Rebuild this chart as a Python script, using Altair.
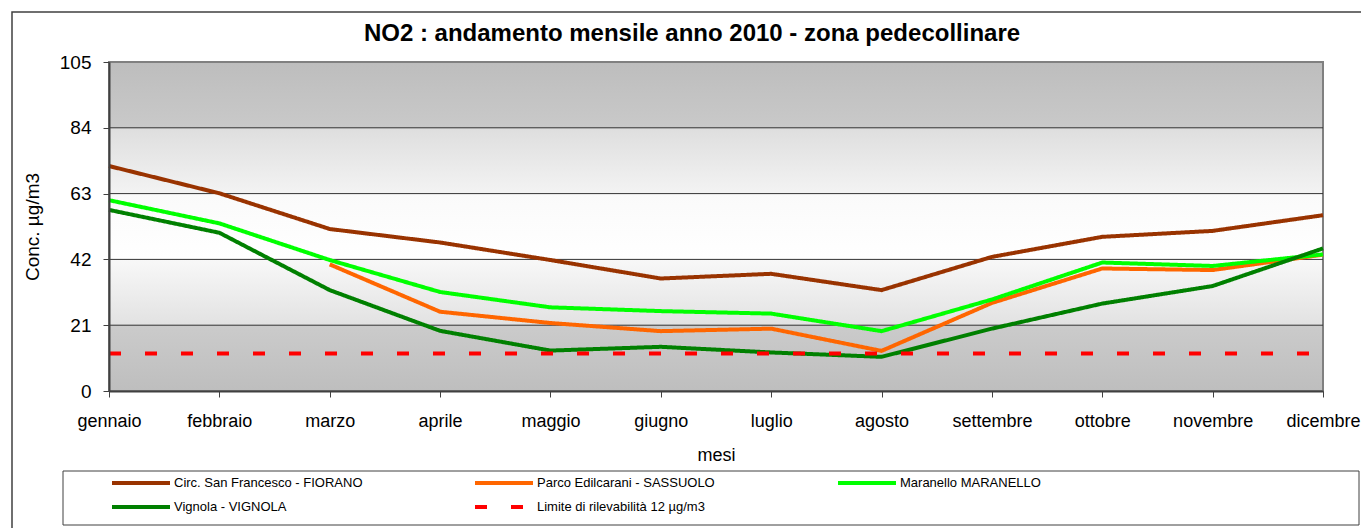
import altair as alt
import pandas as pd

mesi = ["gennaio", "febbraio", "marzo", "aprile", "maggio", "giugno",
        "luglio", "agosto", "settembre", "ottobre", "novembre", "dicembre"]
fiorano = [71.8, 63.1, 51.7, 47.4, 41.8, 35.9, 37.4, 32.2, 42.8, 49.2, 51.1, 56.1]
sassuolo = [None, None, 40.4, 25.3, 21.7, 19.1, 19.9, 12.8, 28.1, 39.1, 38.6, 43.5]
maranello = [60.9, 53.5, 41.8, 31.6, 26.7, 25.5, 24.7, 19.1, 29.2, 41.0, 39.9, 43.6]
vignola = [57.8, 50.5, 32.2, 19.2, 12.9, 14.1, 12.3, 10.9, 19.9, 27.9, 33.5, 45.5]
limite = [12, 12, 12, 12, 12, 12, 12, 12, 12, 12, 12, 12]

serie_nomi = ["Circ. San Francesco - FIORANO", "Parco Edilcarani - SASSUOLO",
              "Maranello MARANELLO", "Vignola - VIGNOLA",
              "Limite di rilevabilità 12 µg/m3"]
serie_valori = [fiorano, sassuolo, maranello, vignola, limite]
colori = ["#993300", "#FF6600", "#00FF00", "#008000", "#FF0000"]
spessori = [4, 4, 4, 4, 6]
tratti = [[1, 0], [1, 0], [1, 0], [1, 0], [12, 24]]
y_ticks = [0, 21, 42, 63, 84, 105]

rows = []
for k, (nome, valori) in enumerate(zip(serie_nomi, serie_valori)):
    for m, v in zip(mesi, valori):
        if v is not None:
            rows.append({"mese": m, "valore": v, "serie": nome, "ordine": k})
df = pd.DataFrame(rows)

W, H = 1214, 329
FONT = "Liberation Sans"

one = pd.DataFrame({"a": [0]})

y_scale = alt.Scale(domain=[y_ticks[0], y_ticks[-1]], nice=False)
y_axis = alt.Axis(title="Conc. µg/m3", values=y_ticks, labelFont=FONT,
                  labelFontSize=19, labelColor="#000", titleFont=FONT,
                  titleFontSize=19, titleFontWeight="normal", titleColor="#000",
                  tickSize=6, tickColor="#404040", domainColor="#404040",
                  domainWidth=2, labelPadding=12, titlePadding=17,
                  grid=False, zindex=1)

# background gradient of the plot area
bg = alt.Chart(one).mark_rect(
    fill=alt.Gradient(
        gradient="linear", x1=0, x2=0, y1=0, y2=1,
        stops=[
            alt.GradientStop(offset=0.0, color="#bdbdbd"),
            alt.GradientStop(offset=0.2, color="#c9c9c9"),
            alt.GradientStop(offset=0.2, color="#dedede"),
            alt.GradientStop(offset=0.4, color="#f3f3f3"),
            alt.GradientStop(offset=0.4, color="#fafafa"),
            alt.GradientStop(offset=0.6, color="#ffffff"),
            alt.GradientStop(offset=0.6, color="#f8f8f8"),
            alt.GradientStop(offset=0.8, color="#e2e2e2"),
            alt.GradientStop(offset=0.8, color="#cbcbcb"),
            alt.GradientStop(offset=1.0, color="#bebebe"),
        ],
    ),
    stroke="#808080", strokeWidth=2,
).encode(x=alt.value(0), x2=alt.value(W), y=alt.value(0), y2=alt.value(H))

grid = alt.Chart(pd.DataFrame({"valore": y_ticks[1:-1]})).mark_rule(
    color="#333333", strokeWidth=1
).encode(
    y=alt.Y("valore:Q", axis=y_axis, scale=y_scale)
)

lines = alt.Chart(df).mark_line(strokeCap="butt", strokeJoin="miter").encode(
    x=alt.X("mese:N", sort=mesi,
            scale=alt.Scale(domain=mesi, type="point", padding=0),
            axis=alt.Axis(title="mesi", labelAngle=0, labelFont=FONT, labelFontSize=18,
                          labelColor="#000", titleFont=FONT, titleFontSize=18,
                          titleFontWeight="normal", titleColor="#000",
                          tickSize=6, tickColor="#404040", domainColor="#404040",
                          domainWidth=2, labelPadding=15, titlePadding=16,
                          grid=False, zindex=1)),
    y=alt.Y("valore:Q", scale=y_scale, axis=y_axis),
    color=alt.Color("serie:N", scale=alt.Scale(domain=serie_nomi, range=colori),
                    legend=alt.Legend(
                        title=None, orient="none", legendX=1, legendY=409,
                        direction="horizontal", columns=3, columnPadding=110,
                        rowPadding=0, clipHeight=24, gridAlign="all",
                        symbolType="stroke", symbolSize=3364,
                        labelFont=FONT, labelFontSize=13, labelLimit=0,
                        labelColor="#000", labelOffset=2, padding=0)),
    strokeDash=alt.StrokeDash("serie:N", scale=alt.Scale(domain=serie_nomi, range=tratti)),
    strokeWidth=alt.StrokeWidth("serie:N", scale=alt.Scale(domain=serie_nomi, range=spessori)),
    order=alt.Order("ordine:Q"),
    detail="serie:N",
)

legend_box = alt.Chart(one).mark_rect(fill=None, stroke="#404040", strokeWidth=1).encode(
    x=alt.value(-46), x2=alt.value(1250), y=alt.value(409), y2=alt.value(463)
)

border = alt.Chart(one).mark_rect(fill=None, stroke="#404040", strokeWidth=1.5).encode(
    x=alt.value(-97), x2=alt.value(1400), y=alt.value(-50), y2=alt.value(600)
)

chart = alt.layer(border, bg, grid, legend_box, lines).properties(
    width=W, height=H,
    title=alt.TitleParams("NO2 : andamento mensile anno 2010  - zona pedecollinare",
                          font=FONT, fontSize=24, fontWeight="bold", color="#000",
                          anchor="middle", dx=-24, offset=-35),
    autosize=alt.AutoSizeParams(type="none"),
    padding={"left": 101, "top": 54, "right": 38, "bottom": 137},
).configure_view(stroke=None).configure(background="white")

chart.save("out.html", embed_options={"renderer": "svg", "actions": False})
